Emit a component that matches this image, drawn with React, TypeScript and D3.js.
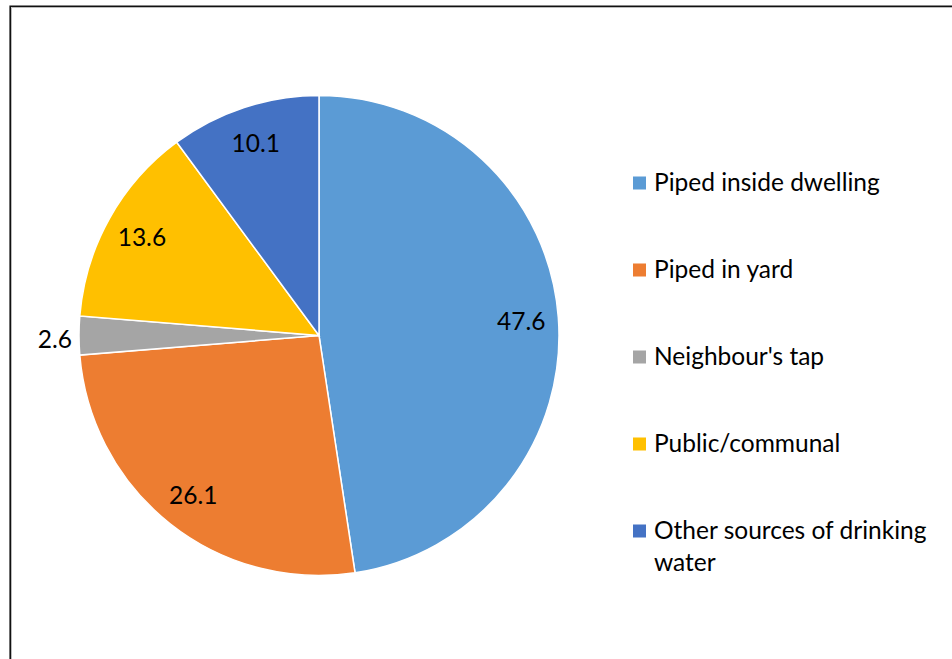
import React, { useEffect, useRef } from "react";
import * as d3 from "d3";

const categories = [
  "Piped inside dwelling",
  "Piped in yard",
  "Neighbour's tap",
  "Public/communal",
  "Other sources of drinking water",
];
const values = [47.6, 26.1, 2.6, 13.6, 10.1];
const colors = ["#5B9BD5", "#ED7D31", "#A5A5A5", "#FFC000", "#4472C4"];

const App: React.FC = () => {
  const ref = useRef<SVGSVGElement | null>(null);
  const width = 952;
  const height = 659;

  useEffect(() => {
    const svg = d3.select(ref.current);
    svg.selectAll("*").remove();

    const font = "Lato, 'Open Sans', sans-serif";
    const fontSize = 24.5;
    const cx = 319;
    const cy = 335.5;
    const radius = 240;

    // frame
    svg.append("rect").attr("width", width).attr("height", height).attr("fill", "#fff");
    svg
      .append("path")
      .attr("d", `M11.5,${height} V7.5 H${width}`)
      .attr("fill", "none")
      .attr("stroke", "#bbb")
      .attr("stroke-width", 1);
    svg
      .append("path")
      .attr("d", `M10.2,${height} V6.2 H${width}`)
      .attr("fill", "none")
      .attr("stroke", "#111")
      .attr("stroke-width", 1.6);

    const data = categories.map((c, i) => ({ name: c, value: values[i], color: colors[i] }));
    const pie = d3
      .pie<{ name: string; value: number; color: string }>()
      .sort(null)
      .value((d) => d.value);
    const arcs = pie(data);

    const arc = d3
      .arc<d3.PieArcDatum<{ name: string; value: number; color: string }>>()
      .innerRadius(0)
      .outerRadius(radius);
    const labelArc = d3
      .arc<d3.PieArcDatum<{ name: string; value: number; color: string }>>()
      .innerRadius(radius * 0.845)
      .outerRadius(radius * 0.845);

    const g = svg.append("g").attr("transform", `translate(${cx},${cy})`);
    g.selectAll("path.slice")
      .data(arcs)
      .join("path")
      .attr("class", "slice")
      .attr("d", arc)
      .attr("fill", (d) => d.data.color)
      .attr("stroke", "#fff")
      .attr("stroke-width", 1.5);

    g.selectAll("text.lbl")
      .data(arcs)
      .join("text")
      .attr("class", "lbl")
      .attr("font-family", font)
      .attr("font-size", fontSize)
      .attr("fill", "#000")
      .attr("dominant-baseline", "central")
      .each(function (d) {
        const t = d3.select(this);
        const mid = (d.startAngle + d.endAngle) / 2;
        if (d.endAngle - d.startAngle < 0.3) {
          const r = radius + 7;
          t.attr("x", r * Math.sin(mid))
            .attr("y", -r * Math.cos(mid) + 3)
            .attr("text-anchor", Math.sin(mid) < 0 ? "end" : "start");
        } else {
          const [x, y] = labelArc.centroid(d);
          t.attr("x", x).attr("y", y).attr("text-anchor", "middle");
        }
      })
      .text((d) => d.data.value.toFixed(1));

    // legend
    const legend = svg.append("g").attr("transform", "translate(633,0)");
    const rowY = d3.scalePoint<string>().domain(categories).range([183, 531]);
    const rows = legend
      .selectAll("g.row")
      .data(data)
      .join("g")
      .attr("class", "row")
      .attr("transform", (d) => `translate(0,${rowY(d.name)})`);
    rows
      .append("rect")
      .attr("x", 0)
      .attr("y", -6.5)
      .attr("width", 13)
      .attr("height", 13)
      .attr("fill", (d) => d.color);
    rows.each(function (d) {
      const t = d3
        .select(this)
        .append("text")
        .attr("x", 21)
        .attr("y", 8)
        .attr("font-family", font)
        .attr("font-size", fontSize)
        .attr("fill", "#000");
      const lines =
        d.name === "Other sources of drinking water"
          ? ["Other sources of drinking", "water"]
          : [d.name];
      lines.forEach((ln, i) => {
        t.append("tspan").attr("x", 21).attr("dy", i === 0 ? 0 : 31.5).text(ln);
      });
    });
  }, []);

  return (
    <svg
      ref={ref}
      width={width}
      height={height}
      style={{ position: "absolute", left: 0, top: 0 }}
    />
  );
};

export default App;
